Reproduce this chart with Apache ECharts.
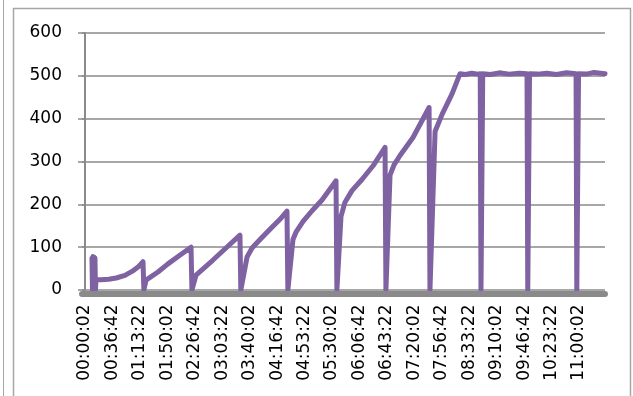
<!DOCTYPE html>
<html>
<head>
<meta charset="utf-8">
<script src="https://cdn.jsdelivr.net/npm/echarts@6/dist/echarts.min.js"></script>
<style>
  html, body { margin: 0; padding: 0; background: #fff; }
  #chart { width: 633px; height: 396px; }
</style>
</head>
<body>
<div id="chart"></div>
<script>
// Logged readings: seconds elapsed since 00:00:02 and the measured value
const elapsedSec = [
  560, 600, 640, 680, 720, 760, 800, 840, 880,
  1300, 1900, 2500, 3200, 3800, 4300, 4650, 4720, 4780, 4890,
  5850, 6650, 7600, 8500, 8570, 8640, 8900,
  10260, 11300, 12420, 12490, 12560, 12990,
  13390, 14030, 14830, 15630, 16190, 16260, 16330, 16670,
  16910, 17480, 18200, 19000, 20120, 20190, 20260, 20520,
  20840, 21400, 22200, 23090, 24050, 24120, 24190, 24450,
  24770, 25250, 26290, 27580, 27650, 27720, 28060,
  28620, 29420, 30060,
  30500, 31000, 31500, 31680, 31740, 31820, 31880,
  32500, 33200, 34000, 34800, 35430, 35490, 35570, 35630,
  36300, 37000, 37800, 38600, 39360, 39420, 39500, 39560,
  40200, 40800, 41680
];
const values = [
  74, 0, 78, 0, 77, 0, 75, 0, 24,
  24, 25, 28, 34, 44, 55, 66, 0, 0, 23,
  42, 61, 81, 100, 0, 0, 35,
  70, 98, 128, 0, 0, 77,
  98, 118, 142, 165, 184, 0, 0, 118,
  135, 160, 185, 210, 255, 0, 0, 172,
  205, 232, 258, 290, 333, 0, 0, 268,
  292, 314, 356, 426, 0, 0, 370,
  410, 458, 505,
  503, 506, 504, 505, 0, 0, 505,
  503, 507, 504, 506, 505, 0, 0, 505,
  504, 506, 503, 507, 505, 0, 0, 505,
  504, 508, 505
];

// Axis labels, one every 36 min 40 s
const tickStep = 2200;
const tickLabels = [
  '00:00:02', '00:36:42', '01:13:22', '01:50:02', '02:26:42', '03:03:22',
  '03:40:02', '04:16:42', '04:53:22', '05:30:02', '06:06:42', '06:43:22',
  '07:20:02', '07:56:42', '08:33:22', '09:10:02', '09:46:42', '10:23:22',
  '11:00:02'
];
const yTicks = [0, 100, 200, 300, 400, 500, 600];

const points = elapsedSec.map((t, i) => [t, values[i]]);
const tickPositions = tickLabels.map((_, i) => i * tickStep);

const chart = echarts.init(document.getElementById('chart'), null, { renderer: 'canvas' });
const labelFont = { fontFamily: 'DejaVu Sans', fontSize: 17, color: '#000' };

chart.setOption({
  animation: false,
  backgroundColor: '#fff',
  graphic: [
    { type: 'line', shape: { x1: 3.5, y1: 0, x2: 3.5, y2: 396 }, style: { stroke: '#a6a6a6', lineWidth: 1 } },
    { type: 'rect', shape: { x: 13.5, y: 8.5, width: 617, height: 400 }, style: { fill: 'none', stroke: '#a6a6a6', lineWidth: 1.5 } }
  ],
  grid: { left: 82, right: 28, top: 33, bottom: 106, containLabel: false },
  xAxis: {
    type: 'value',
    min: -240,
    max: 41680,
    offset: 3.5,
    z: 10,
    axisLine: { show: true, onZero: false, lineStyle: { color: '#8a8a8a', width: 6 } },
    axisTick: { show: false },
    splitLine: { show: false },
    axisLabel: Object.assign({
      customValues: tickPositions,
      rotate: 90,
      margin: 11,
      formatter: v => tickLabels[Math.round(v / tickStep)]
    }, labelFont)
  },
  yAxis: {
    type: 'value',
    min: yTicks[0],
    max: yTicks[yTicks.length - 1],
    interval: 100,
    axisLine: { show: true, lineStyle: { color: '#8a8a8a', width: 2 } },
    axisTick: { show: true, length: 7, lineStyle: { color: '#8a8a8a', width: 1.5 } },
    splitLine: { show: true, lineStyle: { color: '#8a8a8a', width: 1.5 } },
    axisLabel: Object.assign({ margin: 20 }, labelFont)
  },
  series: [{
    type: 'line',
    data: points,
    showSymbol: false,
    z: 5,
    lineStyle: { color: '#7f62a1', width: 5, join: 'round', cap: 'round' },
    itemStyle: { color: '#7f62a1' }
  }]
});
</script>
</body>
</html>
